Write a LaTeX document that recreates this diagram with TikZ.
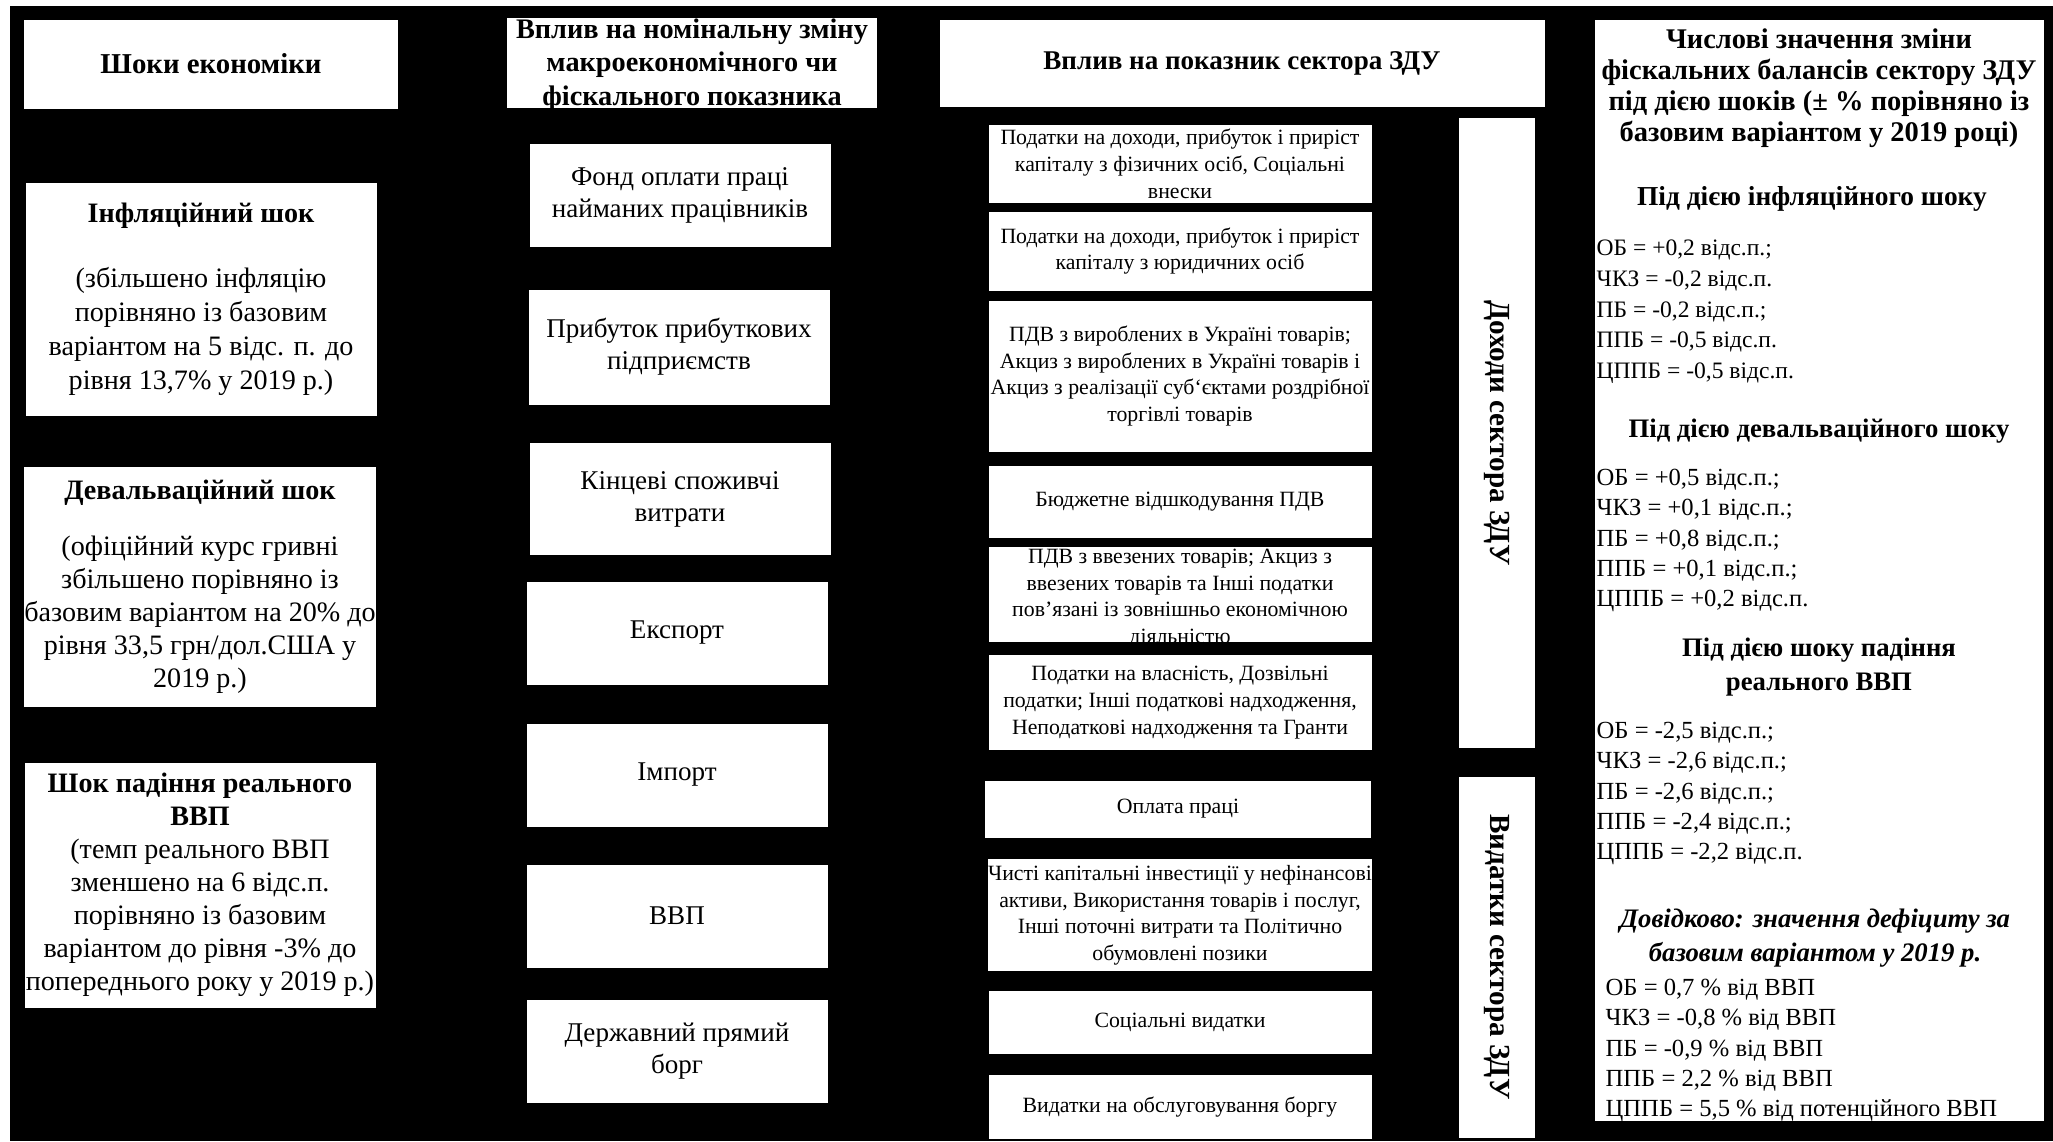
\documentclass[tikz,border=0pt]{standalone}
\usepackage{fontspec}
\setmainfont{Liberation Serif}
\setlength{\tabcolsep}{0pt}

\tikzset{%
        every node/.style = {inner sep = 0pt, text = black},
        card/.style = {rectangle, fill = white},
        heading/.style = {card, font = \fontsize{8.2}{8.5}\selectfont\bfseries},
        shock/.style = {card, minimum width = 35.1mm, font = \fontsize{8}{9.4}\selectfont},
        indicator/.style = {card, minimum width = 30.1mm, minimum height = 10.3mm, font = \fontsize{7.7}{9.1}\selectfont},
        item/.style = {card, minimum width = 38.3mm, font = \fontsize{6.2}{7.6}\selectfont},
        itemtext/.style = {font = \fontsize{6.2}{7.6}\selectfont},
        sector/.style = {card, rotate = -90, minimum height = 7.6mm, font = \fontsize{8.3}{8.3}\selectfont\bfseries},
        results/.style = {card, minimum width = 44.9mm, minimum height = 110.1mm},
        resulttitle/.style = {font = \fontsize{7.6}{9.7}\selectfont\bfseries},
        resultlist/.style = {anchor = west, font = \fontsize{7}{8.6}\selectfont}
    }

\begin{document}
\begin{tikzpicture}[x = 0.1mm, y = -0.1mm]
	\useasboundingbox (0,0) rectangle (2053,1141);
	\fill[white] (0,0) rectangle (2053,1141);
	\fill[black] (10,6) rectangle (2053,1141);

	% shocks
	\node[heading, minimum width = 37.4mm, minimum height = 8.9mm]	(shocks)		at (211,64)		{Шоки економіки};
	\node[shock, minimum height = 23.3mm, font = \fontsize{8}{9.7}\selectfont]	(inflation)	at (201,299)	{\begin{tabular}{c}\textbf{Інфляційний шок}\\[8.8pt](збільшено інфляцію\\порівняно із базовим\\варіантом на 5 відс. п. до\\рівня 13,7\% у 2019 р.)\end{tabular}};
	\node[shock, minimum height = 24mm]	(devaluation)	at (200,587)	{\begin{tabular}{c}\textbf{Девальваційний шок}\\[6.3pt](офіційний курс гривні\\збільшено  порівняно із\\базовим варіантом на 20\% до\\рівня 33,5 грн/дол.США  у\\2019 р.)\end{tabular}};
	\node[shock, minimum height = 24.5mm]	(gdpshock)	at (200,885)	{\begin{tabular}{c}\textbf{Шок падіння реального}\\\textbf{ВВП}\\(темп реального ВВП\\зменшено на 6 відс.п.\\порівняно із базовим\\варіантом до рівня -3\% до\\попереднього року у 2019 р.)\end{tabular}};

	% macro and fiscal indicators
	\node[heading, minimum width = 37mm, minimum height = 9mm]	(nominal)	at (692,63)	{};
	\node[font = \fontsize{8.05}{9.6}\selectfont\bfseries]	(nominaltext)	at (692,65)	{\begin{tabular}{c}Вплив на номінальну зміну\\макроекономічного чи\\фіскального показника\end{tabular}};
	\node[indicator]								(wages)		at (680,195)	{\begin{tabular}{c}Фонд оплати праці\\найманих  працівників\end{tabular}};
	\node[indicator, minimum height = 11.5mm]	(profit)		at (679,347)	{\begin{tabular}{c}Прибуток прибуткових\\підприємств\end{tabular}};
	\node[indicator, minimum height = 11.2mm]	(consumption)	at (680,499)	{\begin{tabular}{c}Кінцеві  споживчі\\витрати\end{tabular}};
	\node[indicator]								(export)		at (677,633)	{Експорт};
	\node[indicator]								(import)		at (677,775)	{Імпорт};
	\node[indicator]								(gdp)		at (677,916)	{ВВП};
	\node[indicator]								(debt)		at (677,1051)	{\begin{tabular}{c}Державний прямий\\борг\end{tabular}};

	% general government sector
	\node[heading, minimum width = 60.5mm, minimum height = 8.7mm, font = \fontsize{7.7}{8}\selectfont\bfseries]	(sector)	at (1242,63)	{Вплив на показник сектора ЗДУ};
	\node[item, minimum height = 7.8mm]	(pit)		at (1180,164)	{};
	\node[itemtext]						(pittext)	at (1180,166)	{\begin{tabular}{c}Податки на доходи, прибуток і приріст\\капіталу з фізичних осіб, Соціальні\\внески\end{tabular}};
	\node[item, minimum height = 7.9mm]	(cit)		at (1180,251)	{\begin{tabular}{c}Податки на доходи, прибуток і приріст\\капіталу з юридичних осіб\end{tabular}};
	\node[item, minimum height = 15.1mm]	(vatdom)		at (1180,376)	{\begin{tabular}{c}ПДВ з вироблених в Україні товарів;\\Акциз з вироблених в Україні товарів і\\Акциз з реалізації суб`єктами роздрібної\\торгівлі товарів\end{tabular}};
	\node[item, minimum height = 7.2mm]	(refund)		at (1180,502)	{Бюджетне відшкодування ПДВ};
	\node[item, minimum height = 9.5mm]	(vatimp)		at (1180,594)	{};
	\node[itemtext]						(vatimptext)	at (1180,598)	{\begin{tabular}{c}ПДВ з ввезених товарів; Акциз з\\ввезених товарів та Інші податки\\пов'язані із зовнішньо економічною\\діяльністю\end{tabular}};
	\node[item, minimum height = 9.5mm]	(property)	at (1180,702)	{\begin{tabular}{c}Податки на власність, Дозвільні\\податки; Інші податкові надходження,\\Неподаткові надходження та Гранти\end{tabular}};
	\node[item, minimum height = 5.7mm, minimum width = 38.6mm]	(pay)	at (1178,809)	{Оплата праці};
	\node[item, minimum height = 11.2mm]	(invest)		at (1180,915)	{\begin{tabular}{c}Чисті капітальні інвестиції у нефінансові\\активи, Використання товарів і послуг,\\Інші поточні витрати та Політично\\обумовлені позики\end{tabular}};
	\node[item, minimum height = 6.3mm]	(social)		at (1180,1022)	{Соціальні видатки};
	\node[item, minimum height = 6.4mm]	(interest)	at (1180,1107)	{Видатки на обслуговування боргу};
	\node[sector, minimum width = 63mm]	(revenue)	at (1497,433)	{Доходи сектора ЗДУ};
	\node[sector, minimum width = 36.1mm]	(spending)	at (1497,957)	{Видатки сектора ЗДУ};

	% numerical values
	\node[results]		(values)		at (1819,570)	{};
	\node[resulttitle, font = \fontsize{8.1}{8.8}\selectfont\bfseries]	(valtitle)	at (1819,89)	{\begin{tabular}{c}Числові значення зміни\\фіскальних балансів сектору ЗДУ\\під дією шоків (± \% порівняно із\\базовим варіантом у 2019 році)\end{tabular}};
	\node[resulttitle, font = \fontsize{7.8}{8}\selectfont\bfseries]	(infhead)		at (1812,199)	{Під дією інфляційного шоку};
	\node[resultlist, font = \fontsize{6.7}{8.7}\selectfont]	(inflist)		at (1596,311)	{\begin{tabular}{l}ОБ = +0,2 відс.п.;\\ЧКЗ = -0,2 відс.п.\\ПБ = -0,2 відс.п.;\\ППБ = -0,5 відс.п.\\ЦППБ = -0,5 відс.п.\end{tabular}};
	\node[resulttitle]	(devhead)		at (1819,431)	{Під дією девальваційного шоку};
	\node[resultlist]	(devlist)		at (1596,540)	{\begin{tabular}{l}ОБ = +0,5 відс.п.;\\ЧКЗ = +0,1 відс.п.;\\ПБ = +0,8 відс.п.;\\ППБ = +0,1 відс.п.;\\ЦППБ = +0,2 відс.п.\end{tabular}};
	\node[resulttitle]	(gdphead)		at (1819,667)	{\begin{tabular}{c}Під дією шоку падіння\\реального ВВП\end{tabular}};
	\node[resultlist]	(gdplist)		at (1596,793)	{\begin{tabular}{l}ОБ = -2,5 відс.п.;\\ЧКЗ = -2,6 відс.п.;\\ПБ = -2,6 відс.п.;\\ППБ = -2,4 відс.п.;\\ЦППБ = -2,2 відс.п.\end{tabular}};
	\node[resulttitle, font = \fontsize{7.6}{9.7}\selectfont\bfseries\itshape]	(basehead)	at (1815,938)	{\begin{tabular}{c}Довідково: значення дефіциту за\\базовим варіантом у 2019 р.\end{tabular}};
	\node[resultlist]	(baselist)	at (1605,1050)	{\begin{tabular}{l}ОБ = 0,7 \% від ВВП\\ЧКЗ = -0,8 \% від ВВП\\ПБ = -0,9 \% від ВВП\\ППБ = 2,2 \% від ВВП\\ЦППБ = 5,5 \% від потенційного ВВП\end{tabular}};
\end{tikzpicture}
\end{document}
